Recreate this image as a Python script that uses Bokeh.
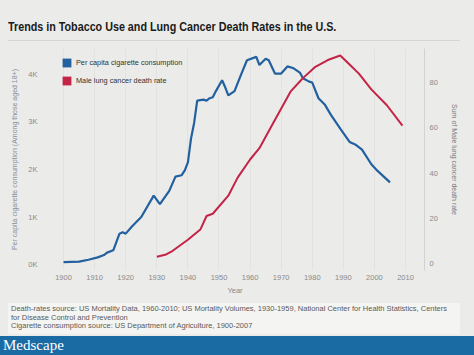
from bokeh.plotting import figure
from bokeh.models import (Range1d, LinearAxis, FixedTicker, Legend, LegendItem, Div)
from bokeh.layouts import column
from bokeh.embed import file_html
from bokeh.resources import INLINE

# ---------------- data ----------------
cig_years = [1900, 1905, 1908, 1911, 1913, 1914, 1916, 1918, 1919, 1920, 1922, 1925,
             1929, 1931, 1934, 1936, 1938, 1939, 1940, 1941, 1942, 1943, 1945, 1946,
             1947, 1948, 1949, 1951, 1952, 1953, 1955, 1957, 1959, 1962, 1963, 1965,
             1966, 1968, 1970, 1972, 1974, 1976, 1977, 1979, 1980, 1982, 1984, 1986,
             1989, 1992, 1994, 1996, 1999, 2001, 2005]
cig_values = [50, 60, 100, 150, 200, 250, 300, 650, 680, 650, 800, 1000,
              1450, 1270, 1550, 1850, 1880, 1980, 2150, 2650, 2980, 3450, 3470, 3450,
              3500, 3520, 3650, 3880, 3730, 3560, 3650, 3980, 4300, 4370, 4200, 4330,
              4300, 4020, 4020, 4170, 4130, 4040, 3920, 3850, 3830, 3500, 3370, 3150,
              2860, 2580, 2520, 2420, 2110, 1970, 1730]

death_years = [1930, 1933, 1935, 1940, 1944, 1946, 1948, 1953, 1956, 1960, 1963, 1967,
               1971, 1973, 1976, 1977, 1981, 1985, 1989, 1992, 1995, 1999, 2004, 2009]
death_rates = [3, 4, 5.5, 10.5, 15, 21, 22, 30, 38, 46, 51, 61,
               71, 76, 80.5, 82, 87, 90, 92, 88, 84, 77, 70, 61]

x_ticks = [1900, 1910, 1920, 1930, 1940, 1950, 1960, 1970, 1980, 1990, 2000, 2010]
left_ticks = [0, 1000, 2000, 3000, 4000]
left_tick_labels = ["0K", "1K", "2K", "3K", "4K"]
right_ticks = [0, 20, 40, 60, 80]

title_text = "Trends in Tobacco Use and Lung Cancer Death Rates in the U.S."
legend_labels = ["Per capita cigarette consumption", "Male lung cancer death rate"]
left_axis_title = "Per capita cigarette consumption (Among those aged 18+)"
right_axis_title = "Sum of Male lung cancer death rate"
x_axis_title = "Year"
footer_lines = [
    "Death-rates source: US Mortality Data, 1960-2010; US Mortality Volumes, 1930-1959, National Center for Health Statistics, Centers",
    "for Disease Control and Prevention",
    "Cigarette consumption source: US Department of Agriculture, 1900-2007",
]
brand = "Medscape"

# ---------------- styling ----------------
W = 474
BLUE = "#22609f"
RED = "#c42346"
BG = "#ebebe9"
TICK = "#8a8a8a"

title_div = Div(
    text=('<div style="margin-left:8px;width:452px;height:41px;box-sizing:border-box;'
          'border-bottom:1px solid #d6d6d4;padding-top:19px;">'
          '<span style="display:inline-block;transform:scaleX(0.86);transform-origin:0 50%;'
          "font-family:'Liberation Sans',sans-serif;"
          'font-weight:bold;font-size:12.5px;line-height:15px;color:#1a1a1a;'
          f'white-space:nowrap">{title_text}</span></div>'),
    width=W, height=41, styles={"background-color": BG, "margin": "0"})

p = figure(width=W, height=259, output_backend="svg", toolbar_location=None,
           x_range=Range1d(1894.2, 2016.1), y_range=Range1d(-126, 4547),
           min_border_left=45, min_border_right=50, min_border_top=7,
           min_border_bottom=30, background_fill_color=BG, border_fill_color=BG,
           outline_line_color=None)
p.extra_y_ranges = {"rate": Range1d(-3.1, 95.1)}

# grid
p.xgrid.ticker = FixedTicker(ticks=x_ticks)
p.xgrid.grid_line_color = "#e2e2e0"
p.ygrid.grid_line_color = None

# x axis
xa = p.xaxis[0]
xa.ticker = FixedTicker(ticks=x_ticks)
xa.axis_line_color = None
xa.major_tick_line_color = None
xa.minor_tick_line_color = None
xa.major_tick_out = 0
xa.major_label_text_font = "Liberation Sans"
xa.major_label_text_font_size = "7.5px"
xa.major_label_text_color = TICK
xa.major_label_standoff = 4
xa.axis_label = x_axis_title
xa.axis_label_text_font = "Liberation Sans"
xa.axis_label_text_font_size = "7.5px"
xa.axis_label_text_font_style = "normal"
xa.axis_label_text_color = TICK
xa.axis_label_standoff = 3

# left axis
ya = p.yaxis[0]
ya.ticker = FixedTicker(ticks=left_ticks)
ya.major_label_overrides = {t: l for t, l in zip(left_ticks, left_tick_labels)}
ya.axis_line_color = None
ya.major_tick_line_color = None
ya.minor_tick_line_color = None
ya.major_tick_out = 0
ya.major_label_text_font = "Liberation Sans"
ya.major_label_text_font_size = "7.5px"
ya.major_label_text_color = TICK
ya.major_label_standoff = 8
ya.axis_label = left_axis_title
ya.axis_label_text_font = "Liberation Sans"
ya.axis_label_text_font_size = "7px"
ya.axis_label_text_font_style = "normal"
ya.axis_label_text_color = "#7d90a3"
ya.axis_label_standoff = 7

# right axis
ra = LinearAxis(y_range_name="rate", ticker=FixedTicker(ticks=right_ticks),
                axis_label=right_axis_title)
ra.axis_line_color = "#d2d2d0"
ra.major_tick_line_color = None
ra.minor_tick_line_color = None
ra.major_tick_out = 0
ra.major_label_text_font = "Liberation Sans"
ra.major_label_text_font_size = "7.5px"
ra.major_label_text_color = TICK
ra.major_label_standoff = 5
ra.axis_label_text_font = "Liberation Sans"
ra.axis_label_text_font_size = "7px"
ra.axis_label_text_font_style = "normal"
ra.axis_label_text_color = "#7a7a7a"
ra.axis_label_standoff = 10
p.add_layout(ra, "right")

# data lines
p.line(cig_years, cig_values, color=BLUE, line_width=2.2)
p.line(death_years, death_rates, y_range_name="rate", color=RED, line_width=2)

# legend with square swatches: hidden bar renderers of the same series
sq_b = p.vbar(x=cig_years, top=cig_values, width=1, fill_color=BLUE, line_color=None,
              visible=False)
sq_r = p.vbar(x=death_years, top=death_rates, width=1, fill_color=RED, line_color=None,
              y_range_name="rate", visible=False)
leg = Legend(items=[LegendItem(label=legend_labels[0], renderers=[sq_b]),
                    LegendItem(label=legend_labels[1], renderers=[sq_r])],
             location=(16, 184), padding=0, margin=0, spacing=7,
             glyph_width=11, glyph_height=11, label_height=11, label_standoff=4,
             label_text_font="Liberation Sans", label_text_font_size="7.3px",
             label_text_color="#333333", background_fill_alpha=0,
             border_line_color=None)
p.add_layout(leg)

footer_html = "<br>".join(footer_lines)
footer_div = Div(
    text=('<div style="margin:3px 0 0 8px;width:452px;height:31px;box-sizing:border-box;'
          'background:#f4f4f2;padding:2px 0 0 3px;'
          "font-family:'Liberation Sans',sans-serif;font-size:7.5px;line-height:8.6px;"
          f'color:#5a5a5a;white-space:nowrap;overflow:hidden">{footer_html}</div>'),
    width=W, height=36, styles={"background-color": BG, "margin": "0"})

banner_div = Div(
    text=('<div style="width:474px;height:19px;box-sizing:border-box;padding-left:3px;'
          "font-family:'Liberation Serif',serif;font-size:15px;line-height:19px;"
          f'color:#ffffff">{brand}</div>'),
    width=W, height=19, styles={"background-color": "#1a6aa3", "margin": "0"})

layout = column(title_div, p, footer_div, banner_div, spacing=0,
                styles={"background-color": BG})

open("out.html", "w").write(file_html(layout, INLINE))
